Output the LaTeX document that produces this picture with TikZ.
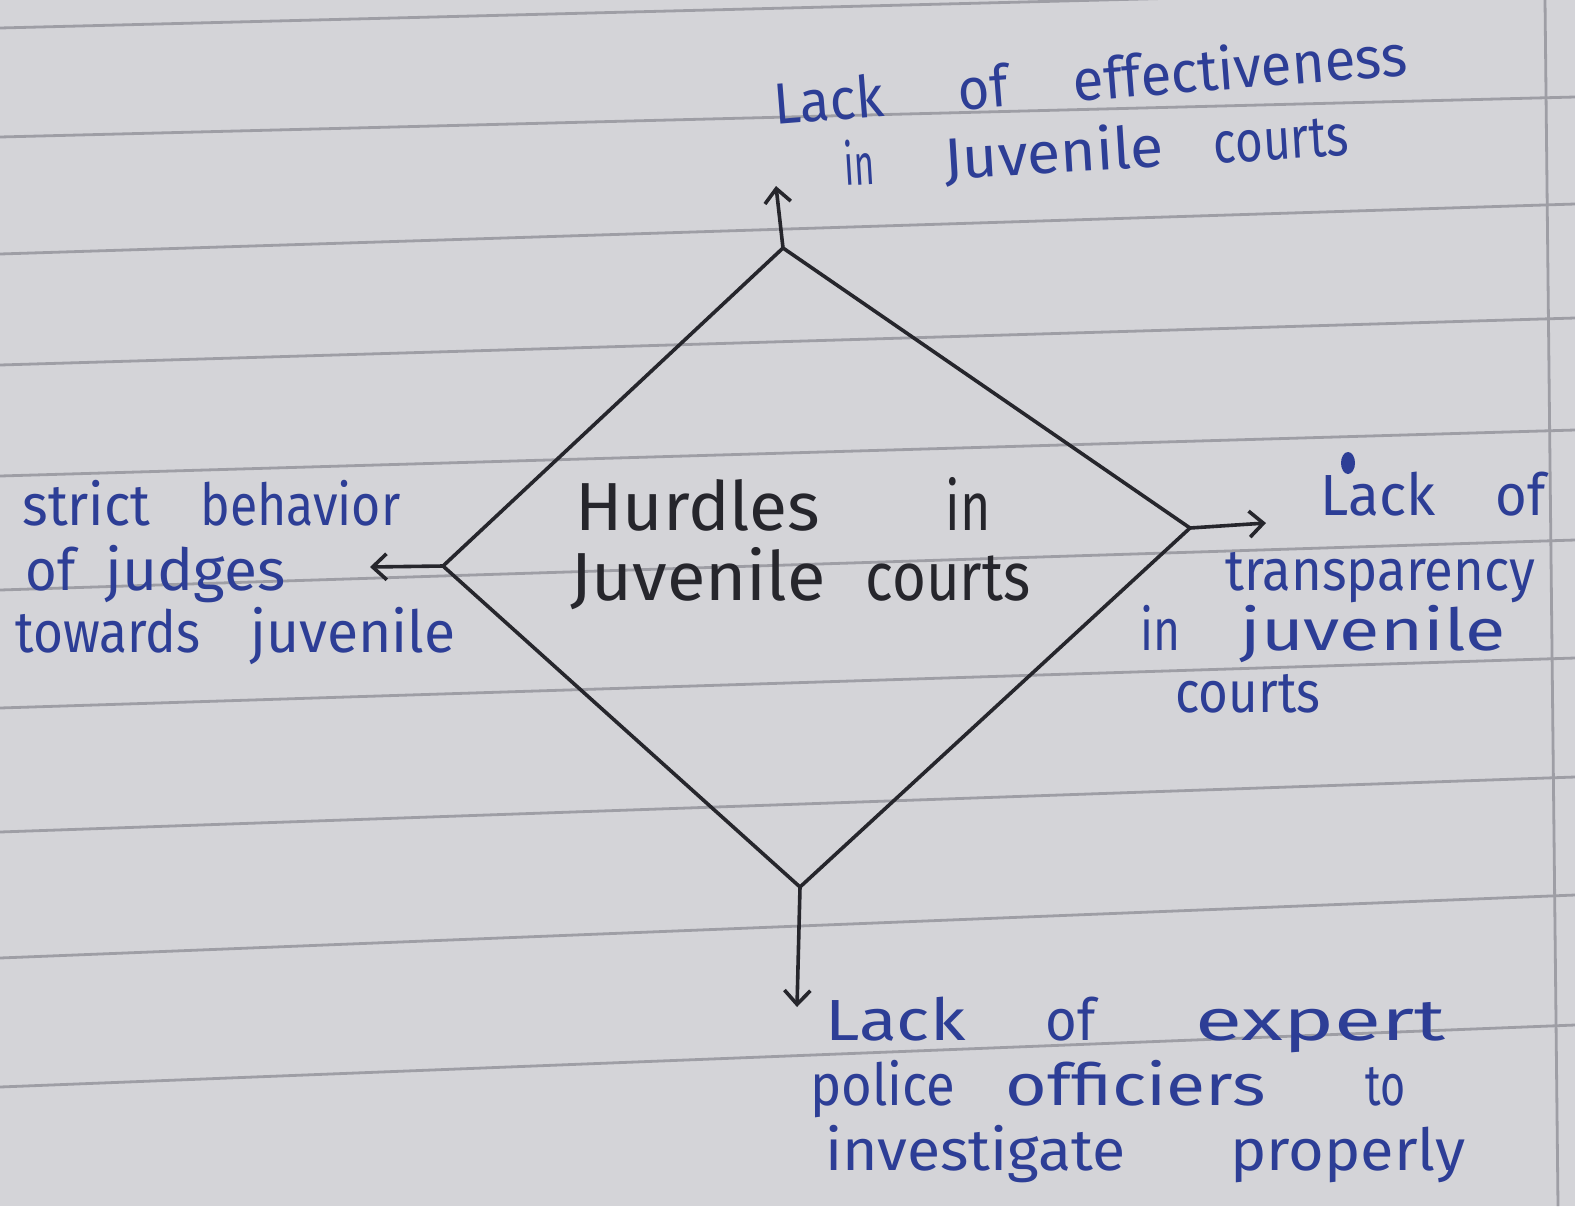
\documentclass[tikz,border=0pt]{standalone}
\usepackage{fontspec}
\usepackage{graphicx}
\setmainfont{Fira Sans}
\usetikzlibrary{arrows.meta}
\definecolor{paper}{RGB}{212,212,216}
\definecolor{ruled}{RGB}{158,158,165}
\definecolor{ink}{RGB}{45,62,150}
\definecolor{pencil}{RGB}{38,38,44}
% a word stretched horizontally to a given width (pt)
\newcommand\hw[2]{\resizebox{#1pt}{\height}{#2}}
\begin{document}
\begin{tikzpicture}[x=0.5pt,y=-0.5pt,
  ruleline/.style={ruled, line width=1.4pt},
  diamondline/.style={pencil, line width=1.8pt, line join=round},
  arr/.style={pencil, line width=1.8pt, -{Straight Barb[length=7pt,width=13pt,line width=1.8pt]}},
  blue/.style={text=ink, anchor=base west, inner sep=0pt, font=\fontsize{29}{30}\selectfont},
  black/.style={text=pencil, anchor=base west, inner sep=0pt, font=\fontsize{34}{36}\selectfont}]
\fill[paper] (0,0) rectangle (1575,1206);
\useasboundingbox (0,0) rectangle (1575,1206);
% ruled paper
\foreach \a/\b in {28/-12, 137/97, 254/204, 365/318, 476/430, 590/540, 708/658, 832/777, 958/895, 1087/1025}
  \draw[ruleline] (0,\a) -- (1575,\b);
\draw[ruleline] (1545,0) -- (1558,1206);
% diamond
\coordinate (T) at (783,248);
\coordinate (R) at (1190,528);
\coordinate (B) at (800,887);
\coordinate (L) at (443,566);
\draw[diamondline] (T) -- (R) -- (B) -- (L) -- cycle;
% arrow ends
\coordinate (Te) at (776,186);
\coordinate (Re) at (1266,523);
\coordinate (Le) at (370,567);
\coordinate (Be) at (797,1007);
\draw[arr] (T) -- (Te);
\draw[arr] (R) -- (Re);
\draw[arr] (L) -- (Le);
\draw[arr] (B) -- (Be);
% centre
\node[black] (c1) at (575,530) {\hw{122.5}{Hurdles}\hspace{62.5pt}\hw{22.5}{in}};
\node[black] (c2) at (570,600) {\hw{127.5}{Juvenile}\hspace{20pt}\hw{82.5}{courts}};
% top
\node[blue, rotate=4.5] (t1) at (775,125) {\hw{55}{Lack}\hspace{37.5pt}\hw{25}{of}\hspace{32.5pt}\hw{167.5}{effectiveness}};
\node[blue, rotate=3.5] (t2) at (845,186) {\hw{15}{in}\hspace{35pt}\hw{110}{Juvenile}\hspace{25pt}\hw{67.5}{courts}};
% left
\node[blue] (l1) at (22,525) {\hw{64}{strict}\hspace{25pt}\hw{100}{behavior}};
\node[blue] (l2) at (25,590) {\hw{25}{of}\hspace{15pt}\hw{90}{judges}};
\node[blue] (l3) at (15,652) {\hw{92.5}{towards}\hspace{25pt}\hw{102.5}{juvenile}};
% right
\fill[ink] (1348,463) ellipse (7 and 11);
\node[blue] (r1) at (1320,515) {\hw{57.5}{Lack}\hspace{30pt}\hw{25}{of}};
\node[blue] (r2) at (1225,590) {\hw{155}{transparency}};
\node[blue] (r3) at (1140,650) {\hw{20}{in}\hspace{30pt}\hw{132.5}{juvenile}};
\node[blue] (r4) at (1175,712) {\hw{72.5}{courts}};
% bottom
\node[blue] (b1) at (825,1040) {\hw{70}{Lack}\hspace{40pt}\hw{25}{of}\hspace{50pt}\hw{125}{expert}};
\node[blue] (b2) at (810,1105) {\hw{72.5}{police}\hspace{25pt}\hw{130}{officiers}\hspace{50pt}\hw{20}{to}};
\node[blue] (b3) at (825,1170) {\hw{150}{investigate}\hspace{52.5pt}\hw{117.5}{properly}};
\end{tikzpicture}
\end{document}
